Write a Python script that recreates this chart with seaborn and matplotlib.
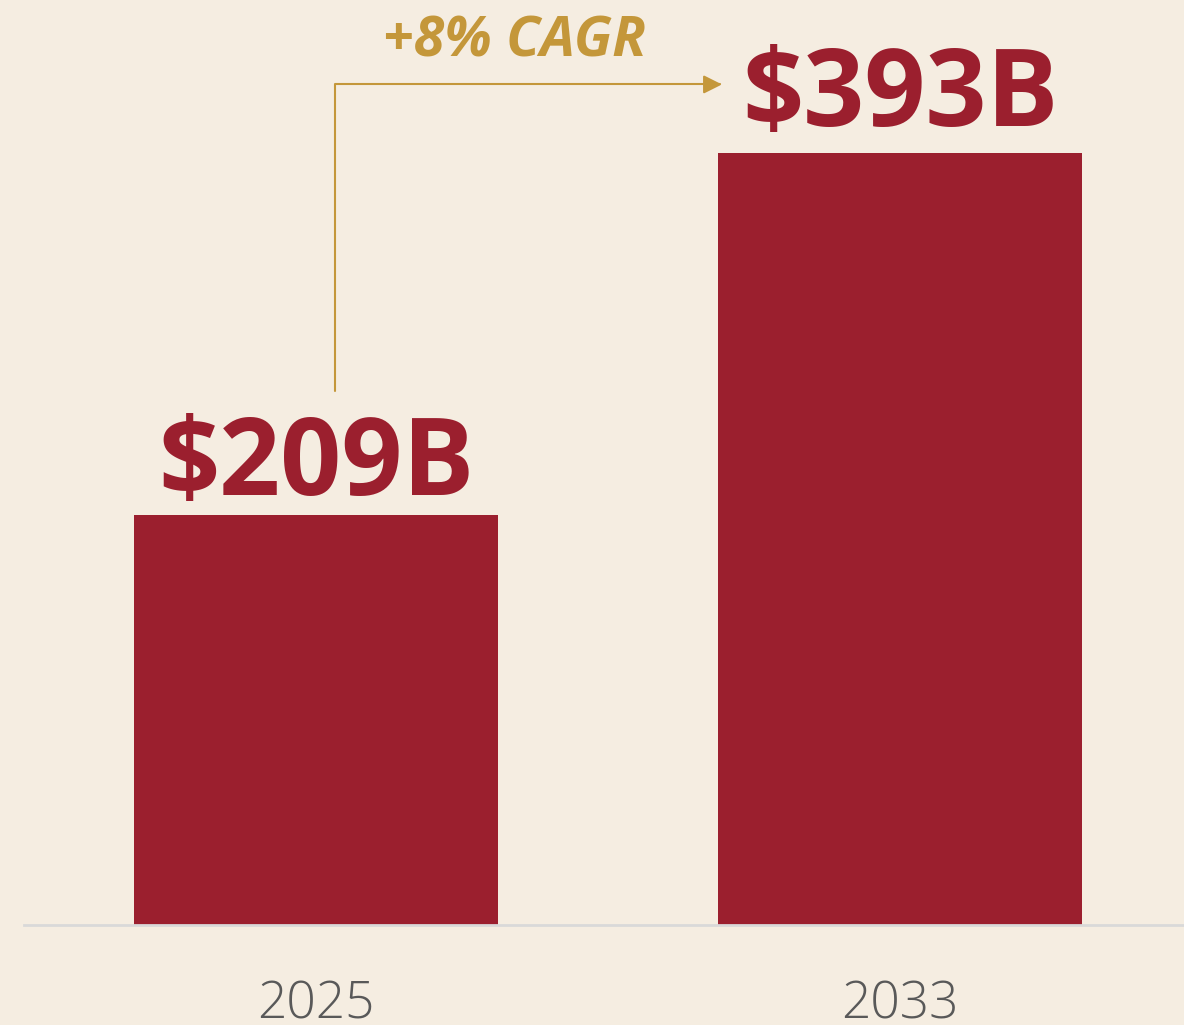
import pandas as pd
import seaborn as sns
import matplotlib.pyplot as plt

# data
years = ["2025", "2033"]
market_size = [209, 393]  # USD billions
cagr_label = "+8% CAGR"

BG = "#f5ede1"
BAR = "#9b1f2e"
GOLD = "#c4973a"

sns.set_theme(style="white")
plt.rcParams["font.family"] = ["Open Sans", "DejaVu Sans"]

df = pd.DataFrame({"year": years, "size": market_size})

fig = plt.figure(figsize=(11.84, 10.25), dpi=100, facecolor=BG)
ax = fig.add_axes([24 / 1184, 100 / 1025, 1160 / 1184, 925 / 1025])
ax.set_facecolor(BG)

sns.barplot(data=df, x="year", y="size", color=BAR, width=0.624,
            saturation=1, linewidth=0, ax=ax)

ax.set_xlim(-0.5, 1.486)
ax.set_ylim(0, 471)

# value labels on top of the bars
for i, v in enumerate(market_size):
    ax.text(i, v * 1.02 + 6, f"${v}B", ha="center", va="baseline",
            fontsize=77, fontweight="bold", color=BAR)

# elbow arrow from the first bar to the second
ax.annotate("", xy=(0.695, market_size[1] + 35), xytext=(0.0325, market_size[0] + 63),
            arrowprops=dict(arrowstyle="-|>", color=GOLD, lw=1.5,
                            mutation_scale=28, shrinkA=0, shrinkB=0,
                            connectionstyle="angle,angleA=90,angleB=0,rad=0"))
ax.text(0.34, market_size[1] + 49, cagr_label, ha="center", va="baseline",
        fontsize=40, fontweight="bold", fontstyle="italic", color=GOLD)

sns.despine(ax=ax, left=True)
ax.spines["bottom"].set_color("#d9d9d9")
ax.spines["bottom"].set_linewidth(2)
ax.set_yticks([])
ax.set_xlabel("")
ax.set_ylabel("")
ax.tick_params(axis="x", length=0, pad=39, labelsize=37, labelcolor="#595959")
for lbl in ax.get_xticklabels():
    lbl.set_fontweight("light")

fig.savefig("out.png", dpi=100, facecolor=BG)
